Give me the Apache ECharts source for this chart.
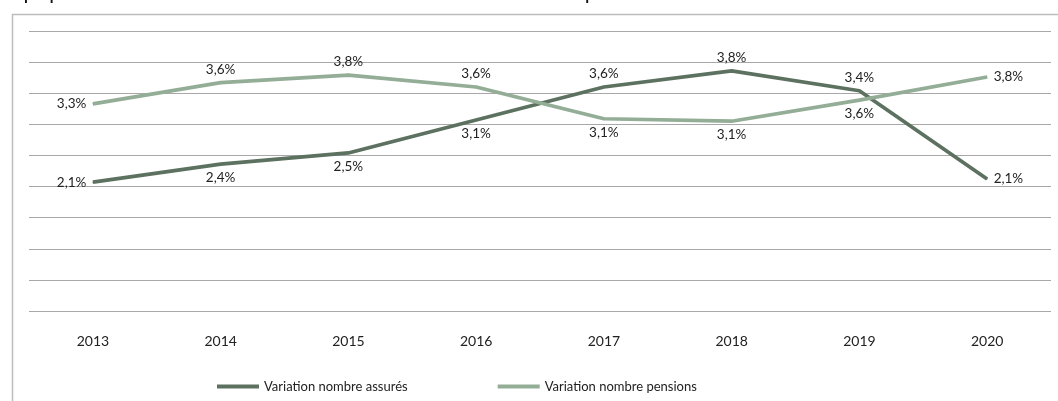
<!DOCTYPE html>
<html>
<head>
<meta charset="utf-8">
<script src="https://cdn.jsdelivr.net/npm/echarts@6/dist/echarts.min.js"></script>
<style>
html,body{margin:0;padding:0;background:#fff;}
#chart{width:1058px;height:401px;}
</style>
</head>
<body>
<div id="chart"></div>
<script>
var titleText = "Graphique 11 : Évolution de la variation annuelle du nombre d'assurés et du nombre de pensions";
var categories = ['2013','2014','2015','2016','2017','2018','2019','2020'];
var seriesNames = ['Variation nombre assurés','Variation nombre pensions'];
var assures = [2.07, 2.36, 2.54, 3.07, 3.60, 3.86, 3.54, 2.12];
var pensions = [3.33, 3.67, 3.79, 3.60, 3.09, 3.05, 3.39, 3.76];
var assuresLabels = ['2,1%','2,4%','2,5%','3,1%','3,6%','3,8%','3,4%','2,1%'];
var pensionsLabels = ['3,3%','3,6%','3,8%','3,6%','3,1%','3,1%','3,6%','3,8%'];
var assuresPos = ['left','bottom','bottom','bottom','top','top','top','right'];
var pensionsPos = ['left','top','top','top','bottom','bottom','bottom','right'];
var yMin = 0, yMax = 4.5, yInterval = 0.5;

var FONT = 'Lato';
function mk(vals, labels, pos){
  return vals.map(function(v,i){
    return {value:v, label:{show:true, position:pos[i], formatter:labels[i]}};
  });
}
var chart = echarts.init(document.getElementById('chart'));
chart.setOption({
  backgroundColor:'#fff',
  animation:false,
  graphic:[
    {type:'rect', left:10, top:12, shape:{width:1200, height:500}, style:{fill:'none', stroke:'#bdbdbd', lineWidth:1.5}, z:-1},
    {type:'text', left:0, top:-11, style:{text:titleText, font:'bold 14px "Liberation Sans"', fill:'#111'}}
  ],
  grid:{left:29, right:7, top:31, bottom:90},
  legend:{
    bottom:3, left:212, itemGap:90, itemWidth:42, itemHeight:4,
    icon:'rect',
    textStyle:{fontFamily:FONT, fontSize:13, color:'#222'},
    data:seriesNames
  },
  xAxis:{
    type:'category', data:categories, boundaryGap:true,
    axisLine:{show:false}, axisTick:{show:false},
    axisLabel:{fontFamily:FONT, fontSize:14, color:'#222', margin:23}
  },
  yAxis:{
    type:'value', min:yMin, max:yMax, interval:yInterval,
    axisLabel:{show:false}, axisLine:{show:false}, axisTick:{show:false},
    splitLine:{lineStyle:{color:'#a8a8a8', width:1}}
  },
  series:[
    {name:seriesNames[0], type:'line', data:mk(assures, assuresLabels, assuresPos),
     symbol:'circle', symbolSize:1, showSymbol:true, color:'#5d7160', lineStyle:{width:3.7, color:'#5d7160'},
     label:{show:true, fontFamily:FONT, fontSize:13.5, color:'#222', distance:6}},
    {name:seriesNames[1], type:'line', data:mk(pensions, pensionsLabels, pensionsPos),
     symbol:'circle', symbolSize:1, showSymbol:true, color:'#93ad96', lineStyle:{width:3.7, color:'#93ad96'},
     label:{show:true, fontFamily:FONT, fontSize:13.5, color:'#222', distance:6}}
  ]
});
</script>
</body>
</html>
